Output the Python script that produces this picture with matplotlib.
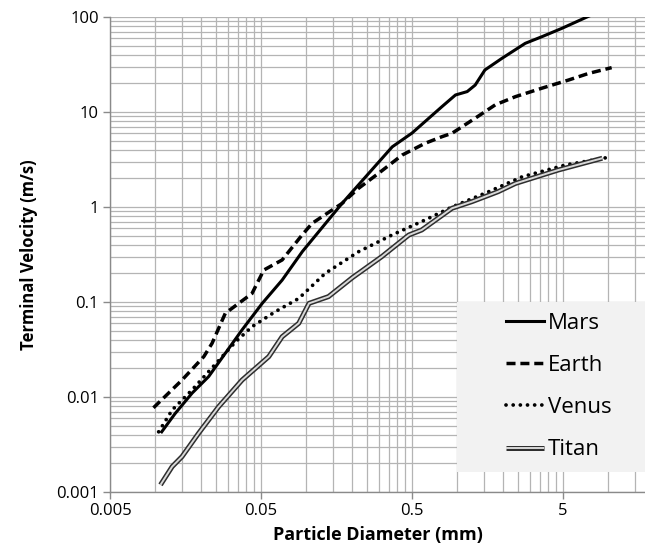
import matplotlib
matplotlib.use("Agg")
import matplotlib.pyplot as plt
from matplotlib.ticker import FixedLocator, LogLocator, NullFormatter, FixedFormatter
from matplotlib.legend_handler import HandlerTuple
from matplotlib.patches import Rectangle
import numpy as np

plt.rcParams['font.family'] = ['Open Sans', 'DejaVu Sans']

# values (particle diameter mm, terminal velocity m/s)
mars_d = [0.011, 0.0135, 0.0175, 0.0225, 0.0375, 0.051, 0.069, 0.094, 0.172, 0.37, 0.5,
          0.79, 0.97, 1.16, 1.31, 1.52, 1.97, 2.81, 3.62, 4.92, 7.2, 10]
mars_v = [0.0043, 0.0067, 0.011, 0.0164, 0.051, 0.097, 0.17, 0.34, 1.09, 4.3, 6.0,
          11.4, 15.1, 16.4, 19.2, 27.7, 36.7, 52.8, 62, 76, 100, 125]

earth_d = [0.0097, 0.015, 0.0209, 0.0237, 0.029, 0.0436, 0.0522, 0.069, 0.0935, 0.109, 0.172,
           0.221, 0.30, 0.43, 0.61, 0.79, 0.92, 1.31, 1.78, 2.42, 3.62, 5.44, 7.4, 10.5]
earth_v = [0.0077, 0.0151, 0.0266, 0.0367, 0.076, 0.123, 0.217, 0.277, 0.507, 0.673, 1.09,
           1.57, 2.26, 3.52, 4.68, 5.5, 5.97, 8.6, 11.9, 14.5, 17.8, 21.7, 25.5, 29.3]

venus_d = [0.0105, 0.0129, 0.0175, 0.0225, 0.0276, 0.034, 0.0436, 0.0621, 0.0889, 0.133,
           0.221, 0.368, 0.61, 0.92, 1.61, 2.68, 5.2, 10.5]
venus_v = [0.0043, 0.0073, 0.0119, 0.0185, 0.0265, 0.0382, 0.055, 0.079, 0.109, 0.20,
           0.338, 0.507, 0.73, 1.0, 1.45, 2.08, 2.77, 3.38]

titan_d = [0.0108, 0.0129, 0.015, 0.0193, 0.0262, 0.0375, 0.0563, 0.069, 0.0889, 0.104,
           0.140, 0.201, 0.315, 0.476, 0.58, 0.92, 1.25, 1.86, 2.42, 4.65, 9.1]
titan_v = [0.00119, 0.00185, 0.00236, 0.00415, 0.0079, 0.0151, 0.0266, 0.0431, 0.0597, 0.0968,
           0.114, 0.18, 0.30, 0.507, 0.573, 0.97, 1.14, 1.45, 1.77, 2.45, 3.26]

x_ticks = [0.005, 0.05, 0.5, 5]
x_tick_labels = ["0.005", "0.05", "0.5", "5"]
y_ticks = [0.001, 0.01, 0.1, 1, 10, 100]
y_tick_labels = ["0.001", "0.01", "0.1", "1", "10", "100"]

grid_col = "#b4b4b4"
axis_col = "#8a8a8a"

W, H = 645, 558
fig = plt.figure(figsize=(W / 100, H / 100), dpi=100)
ax = fig.add_axes([110 / W, 1 - 492 / H, 535 / W, 475 / H])
ax.set_xscale("log")
ax.set_yscale("log")

xmax = 0.005 * 10 ** (535 / 151)
ax.set_xlim(0.005, xmax)
ax.set_ylim(0.001, 100)

# Excel style log grid: decades start at 0.005, minor lines at multiples of that
x_minor = []
for k in range(4):
    for n in range(2, 10):
        x_minor.append(0.005 * 10 ** k * n)
ax.xaxis.set_major_locator(FixedLocator(x_ticks))
ax.xaxis.set_major_formatter(FixedFormatter(x_tick_labels))
ax.xaxis.set_minor_locator(FixedLocator(x_minor))
ax.xaxis.set_minor_formatter(NullFormatter())
ax.yaxis.set_major_locator(FixedLocator(y_ticks))
ax.yaxis.set_major_formatter(FixedFormatter(y_tick_labels))
ax.yaxis.set_minor_locator(LogLocator(base=10, subs=np.arange(2, 10)))
ax.yaxis.set_minor_formatter(NullFormatter())

ax.grid(True, which="both", color=grid_col, linewidth=0.9)
ax.set_axisbelow(True)
for s in ["top", "right"]:
    ax.spines[s].set_visible(False)
for s in ["left", "bottom"]:
    ax.spines[s].set_color(axis_col)
    ax.spines[s].set_linewidth(1.0)
ax.tick_params(which="major", length=5, width=1, color=axis_col, labelsize=12, pad=3)
ax.tick_params(which="minor", length=0)

l_mars, = ax.plot(mars_d, mars_v, color="black", linewidth=2.2)
l_earth, = ax.plot(earth_d, earth_v, color="black", linewidth=2.5, dashes=(2.6, 1.4))
l_venus, = ax.plot(venus_d, venus_v, color="black", linewidth=2.7, dashes=(0.01, 1.9),
                   dash_capstyle="round")
l_titan_o, = ax.plot(titan_d, titan_v, color="#2e2e2e", linewidth=3.6, solid_capstyle="butt")
l_titan_i, = ax.plot(titan_d, titan_v, color="#d8d8d8", linewidth=1.4, solid_capstyle="butt")

ax.set_xlabel("Particle Diameter (mm)", fontsize=13, fontweight="bold", labelpad=5)
ax.set_ylabel("Terminal Velocity (m/s)", fontsize=12, fontweight="bold", labelpad=13)

# grey legend panel
ax.add_patch(Rectangle(((457 - 110) / 535, (492 - 472) / 475), (645 - 457) / 535, 170 / 475,
                       transform=ax.transAxes, facecolor="#f2f2f2", edgecolor="none",
                       zorder=2.5, clip_on=False))

leg = ax.legend([l_mars, l_earth, l_venus, (l_titan_o, l_titan_i)],
                ["Mars", "Earth", "Venus", "Titan"],
                handler_map={tuple: HandlerTuple(ndivide=1)},
                loc="upper left", bbox_to_anchor=(506 / W, 1 - 313 / H),
                bbox_transform=fig.transFigure, frameon=False,
                fontsize=16, handlelength=1.7, handletextpad=0.2, labelspacing=0.95,
                borderpad=0, borderaxespad=0)
leg.set_zorder(3)

fig.savefig("out.png", dpi=100)
